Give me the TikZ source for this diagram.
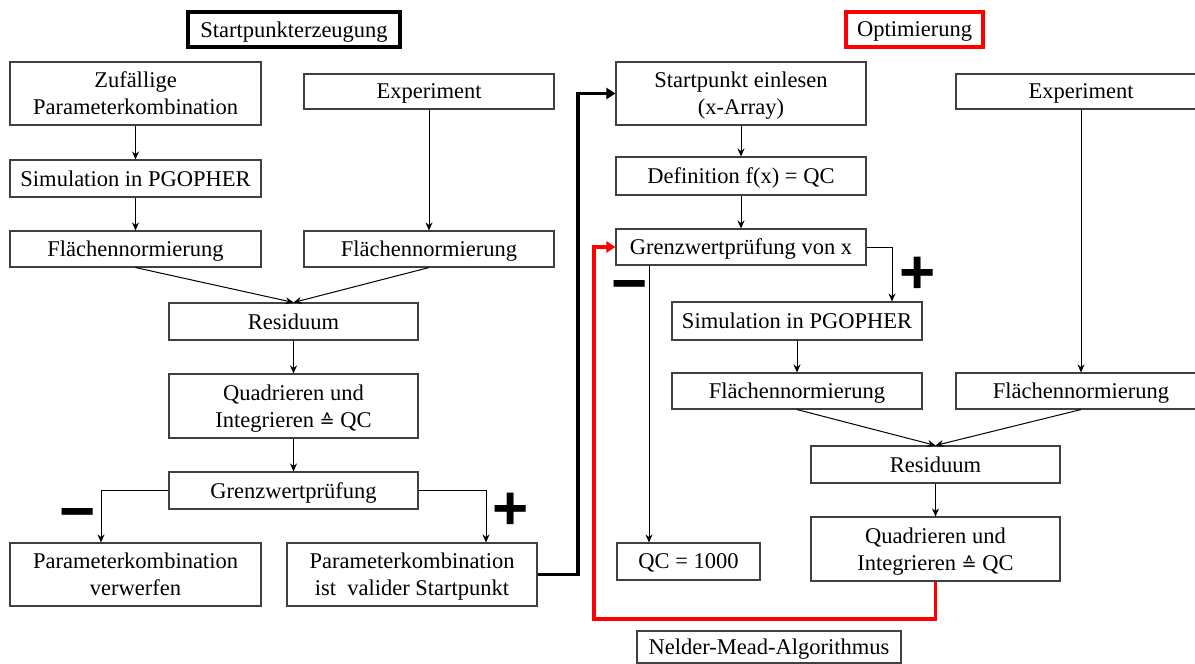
\documentclass[tikz,border=0pt]{standalone}
\usepackage{fontspec}
\setmainfont{Liberation Serif}
\newfontfamily\signfont{Liberation Sans}
\newfontfamily\symfont{DejaVu Sans}
\usetikzlibrary{arrows.meta}
\newcommand{\corr}{{\symfont\fontsize{18pt}{27pt}\selectfont ≙}}
\tikzset{
  box/.style={draw=black!75, line width=1.1pt, fill=white, align=center, inner sep=0pt,
    text depth=0pt, font=\fontsize{22.5pt}{27pt}\selectfont},
  conn/.style={draw=black, line width=1pt, -{Stealth[length=8pt,width=7pt]}},
  bigconn/.style={draw=black, line width=3.5pt, -{Triangle[length=9pt,width=11pt]}},
  redconn/.style={draw=red, line width=3.5pt, -{Triangle[length=9pt,width=11pt]}},
  sign/.style={font=\signfont\bfseries\fontsize{62pt}{62pt}\selectfont, inner sep=0pt},
}
\begin{document}
\begin{tikzpicture}[x=1pt,y=-1pt]
\useasboundingbox (0,0) rectangle (1195,664);
\begin{scope}
\clip (0,0) rectangle (1195,664);
% titles
\node[box, draw=black, line width=4pt, minimum width=212pt, minimum height=35pt] (t1) at (294,29.5) {Startpunkterzeugung};
\node[box, draw=red, line width=3.5pt, minimum width=137pt, minimum height=35pt] (t2) at (914.5,29.5) {Optimierung};
% left part
\node[box, minimum width=251pt, minimum height=63pt] (zuf) at (135.5,93.5) {Zufällige\\Parameterkombination};
\node[box, minimum width=250pt, minimum height=35pt] (expL) at (429,91.5) {Experiment};
\node[box, minimum width=251pt, minimum height=37pt] (simL) at (135.5,178.5) {Simulation in PGOPHER};
\node[box, minimum width=251pt, minimum height=36pt] (flaL1) at (135.5,249) {Flächennormierung};
\node[box, minimum width=250pt, minimum height=36pt] (flaL2) at (429,249) {Flächennormierung};
\node[box, minimum width=249pt, minimum height=37pt] (resL) at (293.5,321.5) {Residuum};
\node[box, minimum width=249pt, minimum height=64pt] (quadL) at (293.5,406) {Quadrieren und\\Integrieren \corr{} QC};
\node[box, minimum width=249pt, minimum height=37pt] (grenzL) at (293.5,490.5) {Grenzwertprüfung};
\node[box, minimum width=251pt, minimum height=63pt] (verw) at (135.5,574.5) {Parameterkombination\\verwerfen};
\node[box, minimum width=250pt, minimum height=63pt] (valid) at (412,574.5) {Parameterkombination\\ist\ \ valider Startpunkt};
% right part
\node[box, minimum width=250pt, minimum height=63pt] (start) at (741,93.5) {Startpunkt einlesen\\(x-Array)};
\node[box, minimum width=250pt, minimum height=35pt] (expR) at (1081,91.5) {Experiment};
\node[box, minimum width=250pt, minimum height=38pt] (defn) at (741,176) {Definition f(x) = QC};
\node[box, minimum width=250pt, minimum height=36pt] (grenzR) at (741,247) {Grenzwertprüfung von x};
\node[box, minimum width=250pt, minimum height=38pt] (simR) at (797,321) {Simulation in PGOPHER};
\node[box, minimum width=250pt, minimum height=36pt] (flaR1) at (797,391) {Flächennormierung};
\node[box, minimum width=250pt, minimum height=36pt] (flaR2) at (1081,391) {Flächennormierung};
\node[box, minimum width=249pt, minimum height=37pt] (resR) at (935.5,464.5) {Residuum};
\node[box, minimum width=249pt, minimum height=64pt] (quadR) at (935.5,549) {Quadrieren und\\Integrieren \corr{} QC};
\node[box, minimum width=143pt, minimum height=37pt] (qc) at (688.5,561.5) {QC = 1000};
\node[box, minimum width=264pt, minimum height=32pt] (nm) at (769,647) {Nelder-Mead-Algorithmus};
% signs
\node[sign] (mL) at (78,520) {\symbol{"2212}};
\node[sign] (pL) at (511,511) {+};
\node[sign] (mR) at (630,292) {\symbol{"2212}};
\node[sign] (pR) at (918,275) {+};
% connectors left
\draw[conn] (zuf) -- (simL);
\draw[conn] (simL) -- (flaL1);
\draw[conn] (expL) -- (flaL2);
\draw[conn] (flaL1.south) -- (resL.north);
\draw[conn] (flaL2.south) -- (resL.north);
\draw[conn] (resL) -- (quadL);
\draw[conn] (quadL) -- (grenzL);
\coordinate (vx) at (101,0);
\coordinate (px) at (486,0);
\draw[conn] (grenzL.west) -| (verw.north -| vx);
\draw[conn] (grenzL.east) -| (valid.north -| px);
% thick connector
\coordinate (jx) at (578,300);
\draw[bigconn] (valid.east) -| (jx) |- (start.west);
% connectors right
\draw[conn] (start) -- (defn);
\draw[conn] (defn) -- (grenzR);
\coordinate (sx) at (892,0);
\draw[conn] (grenzR.east) -| (simR.north -| sx);
\coordinate (qx) at (649,0);
\draw[conn] (grenzR.south -| qx) -- (qc.north -| qx);
\draw[conn] (expR) -- (flaR2);
\draw[conn] (simR) -- (flaR1);
\draw[conn] (flaR1.south) -- (resR.north);
\draw[conn] (flaR2.south) -- (resR.north);
\draw[conn] (resR) -- (quadR);
% red loop
\coordinate (rc) at (594,619);
\draw[redconn] (quadR.south) |- (rc) |- (grenzR.west);
\end{scope}
\end{tikzpicture}
\end{document}
